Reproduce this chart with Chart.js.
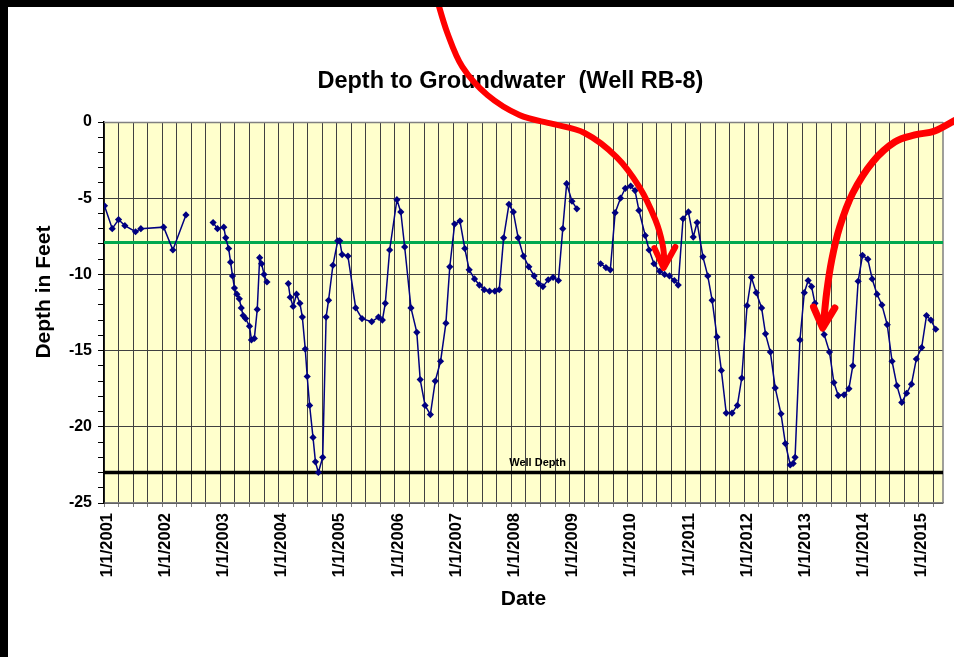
<!DOCTYPE html>
<html><head><meta charset="utf-8">
<script src="https://cdn.jsdelivr.net/npm/chart.js@4.4.1/dist/chart.umd.min.js"></script>
<style>html,body{margin:0;padding:0;background:#fff;}canvas{display:block;}</style>
</head><body>
<canvas id="c" width="954" height="657"></canvas>
<script>
// x = months since 1/1/2001, y = depth to groundwater (feet); null = gap in record
const months = [0.1,1.7,3.0,4.3,6.5,7.6,12.3,14.2,16.9,19.5,
22.5,23.4,24.7,25.1,25.7,26.1,26.5,26.9,27.4,27.9,28.3,28.7,29.2,30.0,30.4,31.0,31.6,32.1,32.5,33.0,33.6,35.8,
38.0,38.4,39.0,39.7,40.4,40.9,41.5,41.9,42.4,43.1,43.6,44.2,45.1,45.8,46.3,47.2,48.2,48.6,49.1,50.3,51.9,53.2,55.2,56.6,57.4,58.0,58.9,
60.4,61.2,62.0,63.3,64.5,65.2,66.2,67.3,68.3,69.4,70.5,71.3,72.3,73.4,74.4,75.3,76.4,77.4,78.4,79.5,80.6,81.5,82.4,83.5,84.4,85.4,86.5,87.6,88.7,89.6,90.5,91.6,92.6,93.7,94.6,95.4,96.5,97.5,100.0,
102.4,103.5,104.4,105.4,106.5,107.5,108.6,109.5,110.3,111.6,112.4,113.4,114.6,115.6,116.6,117.6,118.4,119.4,120.5,121.5,122.3,123.5,124.5,125.4,126.4,127.3,128.3,129.5,130.6,131.5,132.6,133.5,134.5,135.6,136.4,137.4,138.4,139.6,140.5,141.5,142.1,142.5,143.5,144.4,145.2,145.9,146.6,147.6,148.5,149.6,150.5,151.4,152.6,153.6,154.4,155.5,156.4,157.5,158.4,159.4,160.4,161.5,162.5,163.5,164.5,165.5,166.5,167.5,168.6,169.6,170.5,171.5];
const depths = [-5.5,-7.0,-6.4,-6.8,-7.2,-7.0,-6.9,-8.4,-6.1,null,
-6.6,-7.0,-6.9,-7.6,-8.3,-9.2,-10.1,-10.9,-11.3,-11.6,-12.2,-12.7,-12.9,-13.4,-14.3,-14.2,-12.3,-8.9,-9.3,-10.0,-10.5,null,
-10.6,-11.5,-12.1,-11.3,-11.9,-12.8,-14.9,-16.7,-18.6,-20.7,-22.3,-23.0,-22.0,-12.8,-11.7,-9.4,-7.8,-7.8,-8.7,-8.8,-12.2,-12.9,-13.1,-12.8,-13.0,-11.9,-8.4,
-5.1,-5.9,-8.2,-12.2,-13.8,-16.9,-18.6,-19.2,-17.0,-15.7,-13.2,-9.5,-6.7,-6.5,-8.3,-9.7,-10.3,-10.7,-11.0,-11.1,-11.1,-11.0,-7.6,-5.4,-5.9,-7.6,-8.8,-9.5,-10.1,-10.6,-10.8,-10.35,-10.2,-10.4,-7.0,-4.05,-5.2,-5.7,null,
-9.3,-9.55,-9.7,-5.95,-5.0,-4.35,-4.2,-4.5,-5.8,-7.45,-8.4,-9.3,-9.8,-10.0,-10.1,-10.4,-10.7,-6.35,-5.9,-7.55,-6.6,-8.85,-10.1,-11.7,-14.1,-16.3,-19.1,-19.1,-18.6,-16.8,-12.05,-10.2,-11.2,-12.2,-13.9,-15.1,-17.45,-19.15,-21.1,-22.5,-22.4,-22.0,-14.3,-11.2,-10.4,-10.8,-11.9,-13.1,-13.95,-15.1,-17.1,-17.95,-17.9,-17.5,-16.0,-10.45,-8.75,-9.0,-10.3,-11.3,-12.0,-13.3,-15.7,-17.3,-18.4,-17.8,-17.2,-15.55,-14.8,-12.7,-13.0,-13.6];
const yearLabels = ['1/1/2001','1/1/2002','1/1/2003','1/1/2004','1/1/2005','1/1/2006','1/1/2007','1/1/2008','1/1/2009','1/1/2010','1/1/2011','1/1/2012','1/1/2013','1/1/2014','1/1/2015'];
const xMin = 0, xMax = 173;
const greenLevel = -7.9;
const wellDepth = -23.0;
const wellDepthLabel = 'Well Depth';
const wellLabelPos = [89.4, -22.35];
// annotation arrows, in (months, feet)
const arrow1 = [[68.7,8.0],[70.8,5.84],[73.9,3.61],[79.05,1.77],[85.65,0.46],[92.5,-0.13],[99.1,-0.72],[105.7,-2.30],[110.4,-4.27],[113.7,-6.43],[115.2,-8.07],[115.6,-9.38]];
const arrow1Head = [[113.5,-8.27],[115.4,-9.58],[117.8,-8.2]];
const arrow2 = [[175.6,0.13],[171.3,-0.59],[167.2,-0.85],[163.05,-1.31],[158.5,-2.62],[154.4,-4.66],[151.7,-6.89],[150.05,-9.06],[149.0,-11.22],[148.4,-13.12]];
const arrow2Head = [[146.3,-12.14],[148.2,-13.52],[150.7,-12.2]];

const FONT = 'Arial, "Liberation Sans", Helvetica, sans-serif';
const series = months.map((m,i)=>({x:m, y:depths[i]}));

function smooth(ctx, pts){
  ctx.moveTo(pts[0][0], pts[0][1]);
  for(let i=0;i<pts.length-1;i++){
    const p0=pts[i-1]||pts[i], p1=pts[i], p2=pts[i+1], p3=pts[i+2]||pts[i+1];
    ctx.bezierCurveTo(p1[0]+(p2[0]-p0[0])/6, p1[1]+(p2[1]-p0[1])/6, p2[0]-(p3[0]-p1[0])/6, p2[1]-(p3[1]-p1[1])/6, p2[0], p2[1]);
  }
}

const deco = {
  id:'deco',
  beforeDraw(chart){
    const {ctx, chartArea:a} = chart;
    ctx.save();
    ctx.fillStyle='#FFFFCC';
    ctx.fillRect(a.left,a.top,a.right-a.left,a.bottom-a.top);
    ctx.restore();
  },
  beforeDatasetsDraw(chart){
    const {ctx, chartArea:a} = chart;
    ctx.save();
    ctx.strokeStyle='#808080'; ctx.lineWidth=1.5;
    ctx.beginPath();
    ctx.moveTo(a.left, a.top+0.5); ctx.lineTo(a.right, a.top+0.5);
    ctx.moveTo(a.right, a.top); ctx.lineTo(a.right, a.bottom);
    ctx.stroke();
    ctx.restore();
  },
  afterDatasetsDraw(chart){
    const {ctx, scales:{x,y}} = chart;
    ctx.save();
    ctx.fillStyle='#000';
    ctx.font='bold 11px '+FONT;
    ctx.textAlign='center'; ctx.textBaseline='middle';
    ctx.fillText(wellDepthLabel, x.getPixelForValue(wellLabelPos[0]), y.getPixelForValue(wellLabelPos[1]));
    ctx.restore();
  },
  afterDraw(chart){
    const {ctx, scales:{x,y}} = chart;
    const P = arr => arr.map(p=>[x.getPixelForValue(p[0]), y.getPixelForValue(p[1])]);
    ctx.save();
    ctx.strokeStyle='#FF0000';
    ctx.lineCap='round'; ctx.lineJoin='round';
    [[arrow1,arrow1Head,6],[arrow2,arrow2Head,7]].forEach(([body,head,w])=>{
      ctx.lineWidth=w;
      ctx.beginPath(); smooth(ctx, P(body)); ctx.stroke();
      const h=P(head);
      ctx.beginPath(); ctx.moveTo(h[0][0],h[0][1]); ctx.lineTo(h[1][0],h[1][1]); ctx.lineTo(h[2][0],h[2][1]); ctx.stroke();
    });
    ctx.restore();
    ctx.save();
    ctx.fillStyle='#000';
    ctx.fillRect(0,0,chart.width,7);
    ctx.fillRect(0,0,8,chart.height);
    ctx.restore();
  }
};

new Chart(document.getElementById('c'), {
  type:'line',
  data:{datasets:[
    {data:series, borderColor:'#000080', borderWidth:1.5, pointStyle:'rectRot', pointRadius:3.6,
     pointBackgroundColor:'#000080', pointBorderColor:'#000080', pointBorderWidth:0, spanGaps:false, tension:0},
    {data:[{x:xMin,y:greenLevel},{x:xMax,y:greenLevel}], borderColor:'#00A84F', borderWidth:3, pointRadius:0},
    {data:[{x:xMin,y:wellDepth},{x:xMax,y:wellDepth}], borderColor:'#000000', borderWidth:3.5, pointRadius:0}
  ]},
  options:{
    responsive:false, animation:false, devicePixelRatio:1,
    layout:{padding:{left:0,right:11,top:0,bottom:0}},
    plugins:{
      legend:{display:false}, tooltip:{enabled:false},
      title:{display:true, text:'Depth to Groundwater  (Well RB-8)    ', color:'#000', fullSize:false,
        font:{family:FONT, size:23.5, weight:'bold', lineHeight:1.2}, padding:{top:67.9,bottom:25.9}}
    },
    scales:{
      x:{type:'linear', min:xMin, max:xMax,
        afterFit(s){ s.height = 154; s.paddingLeft = 0; s.paddingRight = 0; },
        border:{display:true,color:'#808080',width:1.5},
        grid:{color:'#404040', lineWidth:1, tickColor:'#808080', tickLength:4, drawTicks:true},
        ticks:{stepSize:3, autoSkip:false, includeBounds:false, maxRotation:90, minRotation:90, padding:6, labelOffset:3, color:'#000',
          font:{family:FONT, size:16.5, weight:'bold'},
          callback:v => (v%12===0 ? (yearLabels[v/12]||'') : '')},
        title:{display:true, text:'Date', color:'#000', font:{family:FONT,size:21,weight:'bold',lineHeight:1.2}, padding:{top:0,bottom:45}}
      },
      y:{min:-25, max:0,
        afterFit(s){ s.width = 104; },
        border:{display:true,color:'#000',width:1.5},
        grid:{color:c => (c.tick && c.tick.value%5===0 ? '#404040':'rgba(0,0,0,0)'), lineWidth:1, tickColor:'#000', tickLength:6, drawTicks:true},
        ticks:{stepSize:1, autoSkip:false, padding:6, color:'#000',
          font:{family:FONT, size:16, weight:'bold'},
          callback:v => (v%5===0 ? String(v) : '')},
        title:{display:true, text:'       Depth in Feet', color:'#000', font:{family:FONT,size:21,weight:'bold',lineHeight:1.2}, padding:{top:32,bottom:0}}
      }
    }
  },
  plugins:[deco]
});
</script>
</body></html>
